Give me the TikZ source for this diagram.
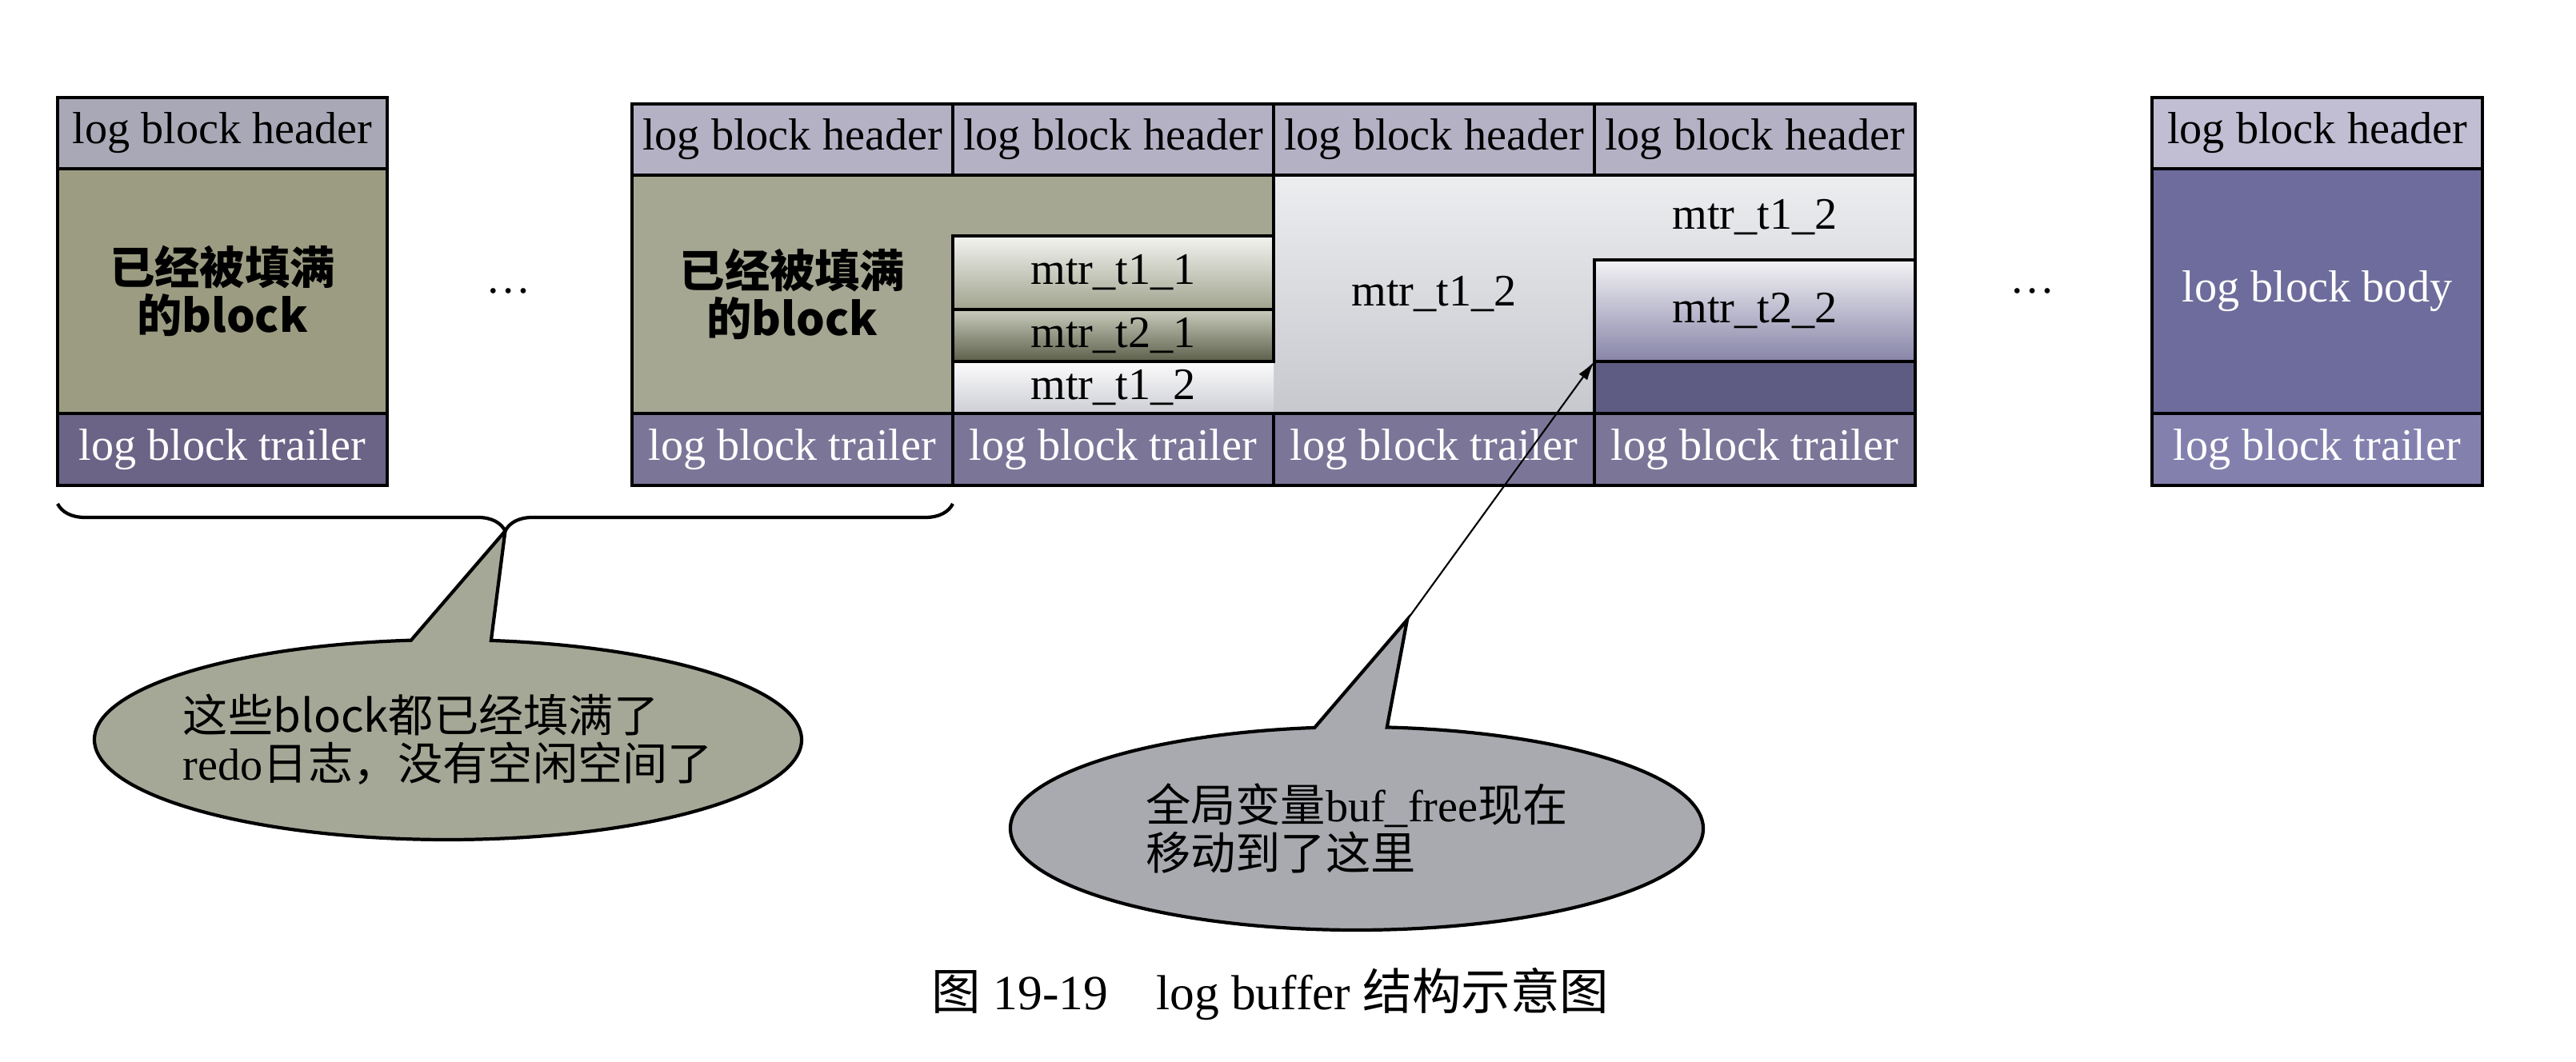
\documentclass[tikz,border=0pt]{standalone}
\usepackage{fontspec}
\setmainfont{Liberation Serif}
\newfontfamily\cjk{Noto Sans CJK SC}
\usetikzlibrary{positioning,calc,arrows.meta,decorations.pathreplacing,backgrounds}

\definecolor{lhdrcol}{HTML}{A9A8B6}
\definecolor{mhdrcol}{HTML}{B5B1C5}
\definecolor{rhdrcol}{HTML}{C1BED3}
\definecolor{lfullcol}{HTML}{9C9C82}
\definecolor{mfullcol}{HTML}{A5A792}
\definecolor{ltrailcol}{HTML}{6B6486}
\definecolor{mtrailcol}{HTML}{7B7698}
\definecolor{rtrailcol}{HTML}{8480AE}
\definecolor{rbodycol}{HTML}{6E6C9C}
\definecolor{freecol}{HTML}{5F5C83}
\definecolor{litetop}{HTML}{ECEDEF}
\definecolor{litebot}{HTML}{C6C8CE}
\definecolor{tAtop}{HTML}{F2F3F0}
\definecolor{tAbot}{HTML}{A0A48E}
\definecolor{tBtop}{HTML}{C9CCBC}
\definecolor{tBbot}{HTML}{5C604B}
\definecolor{tCtop}{HTML}{FBFBFB}
\definecolor{tCbot}{HTML}{CDCED5}
\definecolor{tDtop}{HTML}{F3F3F5}
\definecolor{tDbot}{HTML}{8784A8}
\definecolor{noteAcol}{HTML}{A6A897}
\definecolor{noteBcol}{HTML}{A9AAB0}

\begin{document}
\begin{tikzpicture}[
    cell/.style={draw, line width=1.3pt, inner sep=0pt, outer sep=0pt, anchor=north west, font=\fontsize{16}{19}\selectfont},
    header/.style={cell, fill=mhdrcol, minimum height=0.89cm},
    trailer/.style={cell, fill=mtrailcol, text=white, minimum height=0.9cm},
    mtr/.style={cell, minimum width=4.01cm},
    border/.style={line width=1.3pt},
    brace/.style={decorate, decoration={brace, mirror, amplitude=0.34cm}, line width=1.2pt},
    note/.style={draw=black, line width=1.2pt},
    notetext/.style={align=left, font=\fontsize{16}{17}\selectfont\cjk},
    ptr/.style={-{Latex[length=0.24cm, width=0.13cm]}, line width=0.6pt}
]
    \useasboundingbox (0,0) rectangle (32.2,13.28);

    % full block on the left
    \node[header, fill=lhdrcol, minimum width=4.12cm] (lhead) at (0.72,12.06) {log block header};
    \node[cell, fill=lfullcol, minimum width=4.12cm, minimum height=3.06cm, below=0pt of lhead,
          align=center, font=\fontsize{16}{17}\selectfont\cjk\bfseries] (lbody) {已经被填满\\的block};
    \node[trailer, fill=ltrailcol, minimum width=4.12cm, below=0pt of lbody] (ltrail) {log block trailer};

    \node[font=\fontsize{16}{19}\selectfont] (dotsL) at (6.36,9.64) {\ldots};

    % four blocks in the middle
    \foreach \i in {1,...,4} {
        \node[header, minimum width=4.01cm] (mh\i) at ({7.90+4.01*(\i-1)},11.98) {log block header};
        \node[trailer, minimum width=4.01cm, anchor=south west] (mt\i) at ({7.90+4.01*(\i-1)},7.21) {log block trailer};
    }

    \node[mtr, draw=none, top color=tCtop, bottom color=tCbot, minimum height=0.65cm, anchor=south west] (m12) at (mt2.north west) {mtr\_t1\_2};
    \node[mtr, top color=tBtop, bottom color=tBbot, minimum height=0.65cm, above=0pt of m12] (m21) {mtr\_t2\_1};
    \node[mtr, top color=tAtop, bottom color=tAbot, minimum height=0.92cm, above=0pt of m21] (m11) {mtr\_t1\_1};

    \node[mtr, fill=freecol, minimum height=0.65cm, anchor=south west] (free) at (mt4.north west) {};
    \node[mtr, top color=tDtop, bottom color=tDbot, minimum height=1.27cm, above=0pt of free] (m22) {mtr\_t2\_2};

    \begin{scope}[on background layer]
        \fill[mfullcol] (mh1.south west) -- (mh2.south east) -- (m11.north east) -- (m11.north west)
            -- (mt1.north east) -- (mt1.north west) -- cycle;
        \shade[top color=litetop, bottom color=litebot] (mh3.south west) -- (mh4.south east) -- (m22.north east)
            -- (m22.north west) -- (mt4.north west) -- (mt3.north west) -- cycle;
    \end{scope}

    \node[font=\fontsize{16}{17}\selectfont\cjk\bfseries, align=center] (fulltext) at ($(mh1.south)!0.5!(mt1.north)$) {已经被填满\\的block};
    \node[font=\fontsize{16}{19}\selectfont] (t12a) at ($(mh3.south)!0.5!(mt3.north)$) {mtr\_t1\_2};
    \node[font=\fontsize{16}{19}\selectfont] (t12b) at ($(mh4.south)!0.5!(m22.north)$) {mtr\_t1\_2};

    \draw[border] (mh2.south east) -- (m11.north east);
    \draw[border] (m21.south west) -- (m12.south west);
    \draw[border] (mh1.south west) -- (mh4.south east);
    \draw[border] (mt1.north west) -- (mt4.north east);
    \draw[border] (mh1.north west) rectangle (mt4.south east);

    \node[font=\fontsize{16}{19}\selectfont] (dotsR) at (25.41,9.64) {\ldots};

    % empty block on the right
    \node[header, fill=rhdrcol, minimum width=4.13cm] (rhead) at (26.90,12.06) {log block header};
    \node[cell, fill=rbodycol, text=white, minimum width=4.13cm, minimum height=3.06cm, below=0pt of rhead] (rbody) {log block body};
    \node[trailer, fill=rtrailcol, minimum width=4.13cm, below=0pt of rbody] (rtrail) {log block trailer};

    % brace and callouts
    \draw[brace] ([yshift=-0.23cm]ltrail.south west) -- ([yshift=-0.23cm]mt1.south east);
    \coordinate (tipA) at ($(ltrail.south west)!0.5!(mt1.south east)+(0,-0.57)$);

    \coordinate (noteAc) at (5.60,4.03);
    \filldraw[note, fill=noteAcol] (tipA) -- ($(noteAc)+(96:4.42cm and 1.25cm)$)
        arc[start angle=96, end angle=443, x radius=4.42cm, y radius=1.25cm] -- cycle;
    \node[notetext] (noteA) at (noteAc) {这些block都已经填满了\\{\rmfamily redo}日志，没有空闲空间了};

    \coordinate (noteBc) at (16.96,2.92);
    \coordinate (tipB) at (17.59,5.53);
    \filldraw[note, fill=noteBcol] (tipB) -- ($(noteBc)+(97:4.33cm and 1.27cm)$)
        arc[start angle=97, end angle=445, x radius=4.33cm, y radius=1.27cm] -- cycle;
    \node[notetext] (noteB) at (noteBc) {全局变量{\rmfamily buf\_free}现在\\移动到了这里};
    \draw[ptr] (tipB) -- (m22.south west);

    \node[font=\fontsize{17.5}{20}\selectfont] (caption) at (15.88,0.85) {{\cjk 图} 19-19\hspace{0.6cm}log buffer {\cjk 结构示意图}};
\end{tikzpicture}
\end{document}
